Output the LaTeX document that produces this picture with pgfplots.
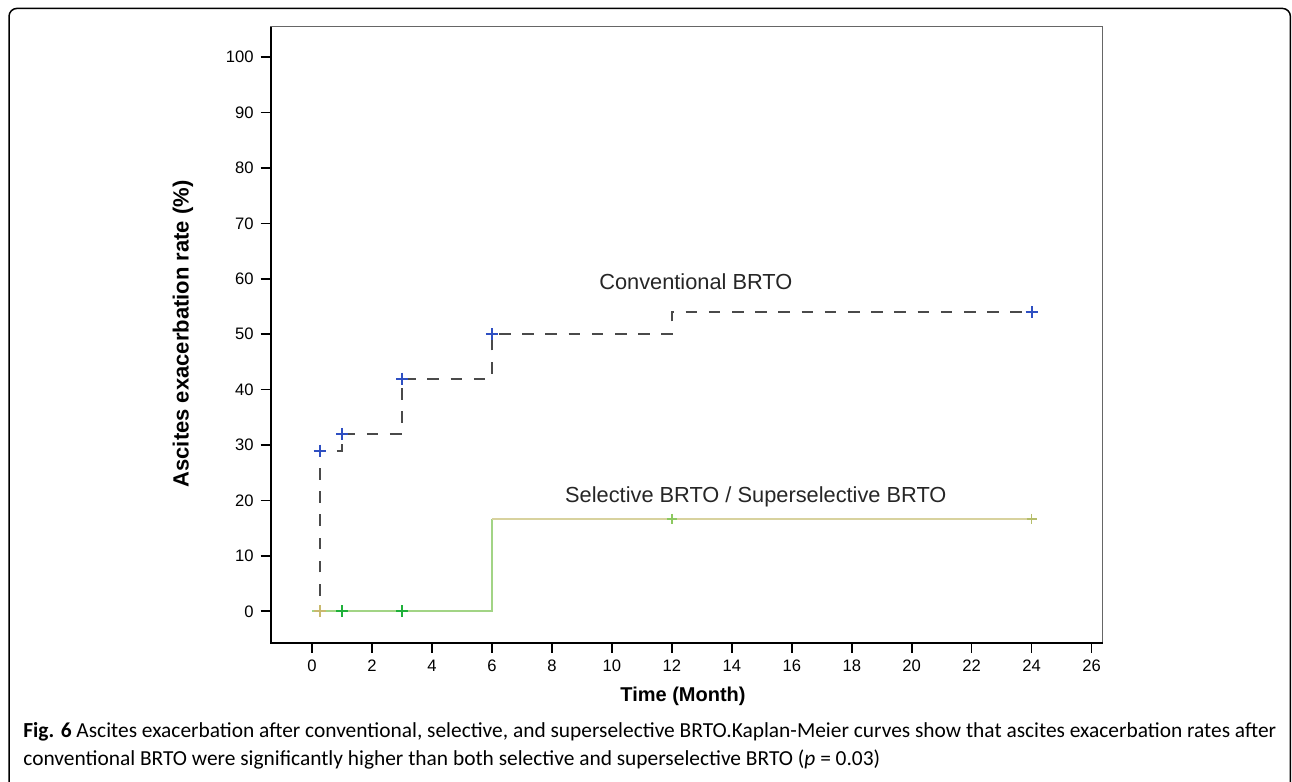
\documentclass[border=0pt]{standalone}
\usepackage{pgfplots}
\pgfplotsset{compat=1.18}
\usepackage{fontspec}
\setmainfont{Liberation Sans}
\newfontfamily\capfont{Carlito}
\definecolor{conv}{HTML}{4A4A4A}
\definecolor{bluemk}{HTML}{2E4FC2}
\definecolor{greenln}{HTML}{A2D485}
\definecolor{greenmk}{HTML}{1FB03A}
\definecolor{tanln}{HTML}{D8D29E}
\definecolor{tanmk}{HTML}{C9B96E}
\definecolor{lgmk}{HTML}{8CC860}
\definecolor{olmk}{HTML}{B5BD6A}
\begin{document}
\begin{tikzpicture}
\path[use as bounding box] (0pt,0pt) rectangle (646pt,-391pt);
\draw[line width=0.75pt, rounded corners=4pt] (4.5pt,-395pt) -- (4.5pt,-4.2pt) -- (645.2pt,-4.2pt) -- (645.2pt,-395pt);
\begin{axis}[
  at={(135.35pt,-321.35pt)}, anchor=south west,
  scale only axis, width=416pt, height=308pt,
  xmin=-1.38, xmax=26.37, ymin=-5.67, ymax=105.5,
  axis line style={draw=black!60, line width=0.7pt},
  xtick={0,2,...,26}, ytick={0,10,...,100},
  tick align=outside, tick pos=left,
  major tick length=5pt,
  tick style={black, line width=0.8pt},
  ticklabel style={font=\fontsize{8.3}{10}\selectfont},
  /pgf/number format/assume math mode=true,
  clip=false,
]
\draw[black, line width=1.2pt] (rel axis cs:0,1) -- (rel axis cs:0,0) -- (rel axis cs:1,0);
\addplot[const plot, conv, line width=1pt, dash pattern=on 5.8pt off 5.8pt] coordinates {(0,0)(0.25,29)(1,32)(3,42)(6,50)(12,54)(24,54)};
\addplot[only marks, mark=+, bluemk, mark size=3pt, line width=1pt] coordinates {(0.25,29)(1,32)(3,42)(6,50)(24,54)};
\addplot[const plot, greenln, line width=1pt] coordinates {(0,0)(6,16.67)};
\addplot[tanln, line width=1pt] coordinates {(6,16.67)(24,16.67)};
\addplot[only marks, mark=+, greenmk, mark size=3pt, line width=1pt] coordinates {(1,0)(3,0)};
\addplot[only marks, mark=+, tanmk, mark size=3pt, line width=1pt] coordinates {(0.25,0)};
\addplot[only marks, mark=+, lgmk, mark size=2.5pt, line width=0.8pt] coordinates {(12,16.67)};
\addplot[only marks, mark=+, olmk, mark size=2.5pt, line width=0.8pt] coordinates {(24,16.67)};
\node[font=\fontsize{10.9}{12}\selectfont, text=black!85] at (axis cs:12.8,59.4) {Conventional BRTO};
\node[font=\fontsize{10.9}{12}\selectfont, text=black!85] at (axis cs:14.8,20.6) {Selective BRTO / Superselective BRTO};
\end{axis}
\node[font=\bfseries\fontsize{10}{12}\selectfont] at (341.5pt,-348pt) {Time (Month)};
\node[font=\bfseries\fontsize{11}{12}\selectfont, rotate=90] at (91.5pt,-167pt) {Ascites exacerbation rate (\%)};
\node[anchor=west, inner sep=0pt, font=\capfont\fontsize{10.7}{12}\selectfont] at (11.5pt,-365.8pt) {\textbf{Fig. 6} Ascites exacerbation after conventional, selective, and superselective BRTO.Kaplan-Meier curves show that ascites exacerbation rates after};
\node[anchor=west, inner sep=0pt, font=\capfont\fontsize{10.7}{12}\selectfont] at (11.5pt,-380pt) {conventional BRTO were significantly higher than both selective and superselective BRTO (\textit{p} = 0.03)};
\end{tikzpicture}
\end{document}
